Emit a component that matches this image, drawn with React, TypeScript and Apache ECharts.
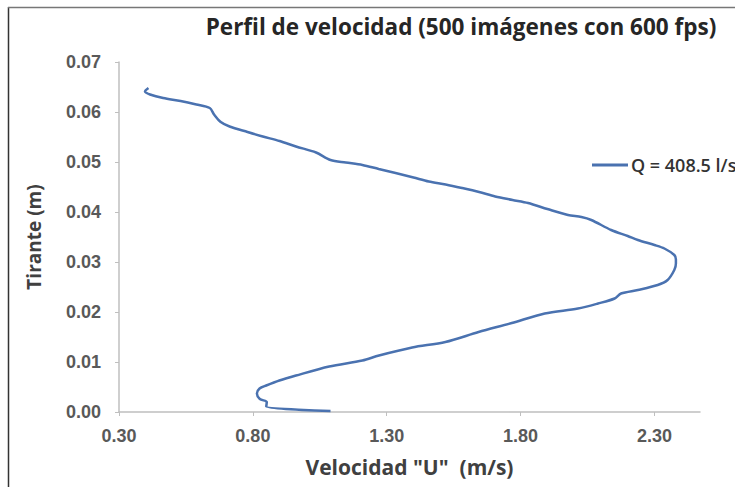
import React, { useEffect, useRef } from "react";
import * as echarts from "echarts";

const TITLE = "Perfil de velocidad (500 imágenes con 600 fps)";
const X_NAME = 'Velocidad "U"  (m/s)';
const Y_NAME = "Tirante (m)";
const SERIES_NAME = "Q = 408.5 l/s";

// velocity (m/s) and depth (m), traced from top to bottom
const velocity = [
  0.41, 0.397, 0.416, 0.465, 0.53, 0.589, 0.639, 0.655, 0.68, 0.713, 0.78, 0.837,
  0.9, 0.961, 1.036, 1.09, 1.147, 1.209, 1.27, 1.333, 1.4, 1.457, 1.52, 1.581,
  1.645, 1.705, 1.77, 1.828, 1.9, 1.977, 2.027, 2.064, 2.138, 2.2, 2.238, 2.3,
  2.337, 2.374, 2.38, 2.38, 2.374, 2.349, 2.312, 2.238, 2.175, 2.151, 2.089, 2.014,
  1.89, 1.767, 1.643, 1.519, 1.395, 1.271, 1.209, 1.085, 0.961, 0.899, 0.85, 0.825,
  0.815, 0.826, 0.852, 0.85, 1.09,
];
const depth = [
  0.0648, 0.0641, 0.0635, 0.0628, 0.0622, 0.0615, 0.0608, 0.0595, 0.058, 0.0571, 0.056, 0.0551,
  0.0542, 0.0531, 0.0519, 0.0504, 0.0499, 0.0494, 0.0486, 0.0478, 0.0469, 0.0461, 0.0455, 0.0448,
  0.044, 0.0431, 0.0424, 0.0418, 0.0406, 0.0394, 0.039, 0.0384, 0.0364, 0.0352, 0.0344, 0.0334,
  0.0327, 0.0314, 0.0305, 0.0297, 0.0284, 0.0264, 0.0254, 0.0244, 0.0237, 0.0227, 0.0217, 0.0207,
  0.0197, 0.0178, 0.016, 0.014, 0.0129, 0.0113, 0.0103, 0.0091, 0.0073, 0.0063, 0.0053, 0.0047,
  0.0037, 0.0026, 0.002, 0.0011, 0.0002,
];

const X_MIN = 0.3;
const X_MAX = 2.47;
const X_STEP = 0.5;
const Y_MIN = 0;
const Y_MAX = 0.07;
const Y_STEP = 0.01;

export default function App() {
  const ref = useRef<HTMLDivElement>(null);
  useEffect(() => {
    document.body.style.margin = "0";
    const chart = echarts.init(ref.current!, null, { renderer: "svg" });
    const data = velocity.map((v, i) => [v, depth[i]]);
    chart.setOption({
      animation: false,
      backgroundColor: "#ffffff",
      grid: { left: 119, right: 35, top: 62, bottom: 75 },
      legend: {
        left: 587,
        top: 151,
        icon: "rect",
        itemWidth: 36,
        itemHeight: 3,
        itemGap: 4,
        textStyle: { fontFamily: "Open Sans", fontSize: 18, color: "#333", fontWeight: 600, padding: [0, 0, 0, -2] },
        data: [SERIES_NAME],
      },
      xAxis: {
        type: "value",
        min: X_MIN,
        max: X_MAX,
        interval: X_STEP,
        name: X_NAME,
        nameLocation: "middle",
        nameGap: 44,
        nameTextStyle: { fontFamily: "Open Sans", fontWeight: "bold", fontSize: 21, color: "#404040" },
        axisLine: { lineStyle: { color: "#bfbfbf", width: 1.5 } },
        axisTick: { show: true, inside: false, length: 4, lineStyle: { color: "#bfbfbf" } },
        splitLine: { show: false },
        axisLabel: {
          margin: 15,
          fontFamily: "Liberation Sans",
          fontWeight: "bold",
          fontSize: 18,
          color: "#595959",
          showMaxLabel: false,
          formatter: (v: number) => {
            const k = (v - X_MIN) / X_STEP;
            return Math.abs(k - Math.round(k)) < 1e-6 ? v.toFixed(2) : "";
          },
        },
      },
      yAxis: {
        type: "value",
        min: Y_MIN,
        max: Y_MAX,
        interval: Y_STEP,
        name: Y_NAME,
        nameLocation: "middle",
        nameGap: 76,
        nameRotate: 90,
        nameTextStyle: { fontFamily: "Open Sans", fontWeight: "bold", fontSize: 19, color: "#404040" },
        axisLine: { show: true, lineStyle: { color: "#bfbfbf", width: 1.5 } },
        axisTick: { show: true, inside: false, length: 4, lineStyle: { color: "#bfbfbf" } },
        splitLine: { show: false },
        axisLabel: {
          margin: 18,
          fontFamily: "Liberation Sans",
          fontWeight: "bold",
          fontSize: 18,
          color: "#595959",
          formatter: (v: number) => v.toFixed(2),
        },
      },
      series: [
        {
          name: SERIES_NAME,
          type: "line",
          data,
          symbol: "none",
          smooth: 0.3,
          lineStyle: { color: "#4a72b0", width: 2.5 },
          itemStyle: { color: "#4a72b0" },
        },
      ],
      graphic: [
        {
          type: "text",
          x: 461,
          y: 26,
          style: {
            text: TITLE,
            textAlign: "center",
            textVerticalAlign: "middle",
            fontFamily: "Open Sans",
            fontWeight: "bold",
            fontSize: 22.5,
            fill: "#262626",
          },
        },
        {
          type: "line",
          shape: { x1: 8.5, y1: 7, x2: 8.5, y2: 487 },
          style: { stroke: "#333", lineWidth: 1.5 },
        },
        {
          type: "line",
          shape: { x1: 8, y1: 7.5, x2: 735, y2: 7.5 },
          style: { stroke: "#777", lineWidth: 1.5 },
        },
      ],
    });
    return () => chart.dispose();
  }, []);
  return <div ref={ref} style={{ width: 735, height: 487 }} />;
}
